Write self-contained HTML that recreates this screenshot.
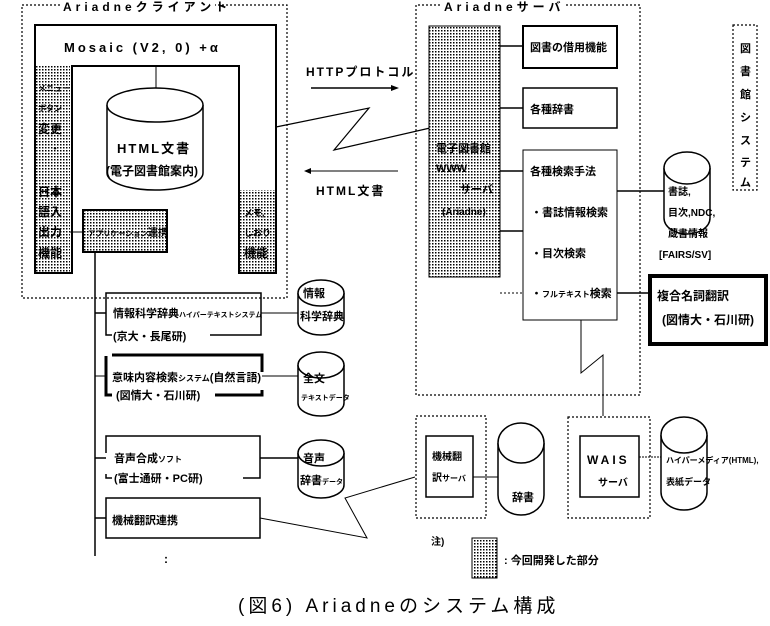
<!DOCTYPE html>
<html><head><meta charset="utf-8"><style>
html,body{margin:0;padding:0;background:#fff;}
svg{display:block;}
text{font-family:"Liberation Sans","Noto Sans CJK JP",sans-serif;font-weight:bold;fill:#000;}
</style></head><body>
<svg width="770" height="626" viewBox="0 0 770 626" xmlns="http://www.w3.org/2000/svg">
<defs>
<pattern id="st" width="3" height="3" patternUnits="userSpaceOnUse">
<rect width="3" height="3" fill="#fff"/><rect width="1.5" height="1.5" fill="#000"/>
</pattern>
</defs>
<g fill="none" stroke="#000" stroke-width="1.2" stroke-dasharray="2,2">
<path d="M60,5 H22 V298 H287 V5 H215"/>
<path d="M440,5 H416 V395 H640 V5 H565"/>
<rect x="733" y="25" width="24" height="165"/>
<rect x="416" y="416" width="70" height="102"/>
<rect x="568" y="417" width="82" height="101"/>
</g>
<text x="63" y="11" font-size="12" letter-spacing="4">Ariadneクライアント</text>
<text x="444" y="11" font-size="12" letter-spacing="4">Ariadneサーバ</text>

<rect x="35" y="66" width="35" height="207" fill="url(#st)"/>
<rect x="239" y="190" width="36" height="83" fill="url(#st)"/>
<path d="M35,273 V25 H276 V273 H239 V66 H72 V273 Z" fill="none" stroke="#000" stroke-width="2"/>
<text x="64" y="52" font-size="13" letter-spacing="3">Mosaic (V2, 0) +α</text>
<g font-size="10">
<text x="38" y="91" font-size="8">メニュー</text><text x="38" y="111" font-size="8">ボタン</text>
<text x="38" y="133" font-size="12">変更</text><text x="50" y="152">・</text>
<text x="38" y="196" font-size="12">日本</text><text x="38" y="216" font-size="12">語入</text>
<text x="38" y="236" font-size="12">出力</text><text x="38" y="257" font-size="12">機能</text>
<text x="244" y="216" font-size="9">メモ,</text><text x="244" y="236" font-size="9">しおり</text><text x="244" y="257" font-size="12">機能</text>
</g>
<line x1="156" y1="66" x2="156" y2="88" stroke="#000" stroke-width="1"/>
<path d="M107,105 V173 A48,17 0 0 0 203,173 V105" fill="#fff" stroke="#000" stroke-width="1.5"/>
<ellipse cx="155" cy="105" rx="48" ry="17" fill="#fff" stroke="#000" stroke-width="1.5"/>
<text x="117" y="153" font-size="13" letter-spacing="2">HTML文書</text>
<text x="106" y="175" font-size="12">(電子図書館案内)</text>
<rect x="83" y="210" width="84" height="42" fill="url(#st)" stroke="#000" stroke-width="2"/>
<text x="88" y="236" font-size="7.5">アプリケーション<tspan font-size="10">連携</tspan></text>
<line x1="70" y1="232" x2="83" y2="232" stroke="#000"/>
<line x1="95" y1="252" x2="95" y2="556" stroke="#000" stroke-width="1.5"/>

<g stroke="#000" fill="none">
<path d="M95,313 H106 M106,331 V293 H261 V335 H210 M106,331 V335 H112" stroke-width="1.5"/>
<line x1="261" y1="313" x2="298" y2="313"/>
<path d="M106,376 H95 M262,376 H300" stroke-width="1"/>
<path d="M112,355 H262 V372 M106,356 V395 H112 M215,395 H262 V390" stroke-width="3"/>
<path d="M95,458 H106 M106,453 V436 H260 V478 H243 M106,474 V478 H112" stroke-width="1.5"/>
<line x1="260" y1="458" x2="298" y2="458" stroke-width="1.5"/>
<path d="M95,518 H106" stroke-width="1.5"/>
<rect x="106" y="498" width="154" height="40" stroke-width="1.5"/>
<path d="M260,518 L367,538 L345,498 L415,477" stroke-width="1"/>
</g>
<g font-size="11">
<text x="113" y="317">情報科学辞典<tspan font-size="7">ハイパーテキストシステム</tspan></text>
<text x="113" y="340">(京大・長尾研)</text>
<text x="112" y="381">意味内容検索<tspan font-size="8">システム</tspan>(自然言語)</text>
<text x="116" y="399">(図情大・石川研)</text>
<text x="114" y="462">音声合成<tspan font-size="8">ソフト</tspan></text>
<text x="114" y="482">(富士通研・PC研)</text>
<text x="112" y="524">機械翻訳連携</text>
</g>
<text x="164" y="563" font-size="12">:</text>

<g fill="#fff" stroke="#000" stroke-width="1.5">
<path d="M298,293 V322 A23,13 0 0 0 344,322 V293"/><ellipse cx="321" cy="293" rx="23" ry="13"/>
<path d="M298,365 V403 A23,13 0 0 0 344,403 V365"/><ellipse cx="321" cy="365" rx="23" ry="13"/>
<path d="M298,453 V485 A23,13 0 0 0 344,485 V453"/><ellipse cx="321" cy="453" rx="23" ry="13"/>
</g>
<g font-size="11">
<text x="303" y="297">情報</text><text x="300" y="320">科学辞典</text>
<text x="303" y="382">全文</text><text x="301" y="400" font-size="7">テキストデータ</text>
<text x="303" y="462">音声</text><text x="300" y="484">辞書<tspan font-size="7">データ</tspan></text>
</g>

<text x="306" y="76" font-size="12" letter-spacing="2">HTTPプロトコル</text>
<line x1="311" y1="88" x2="394" y2="88" stroke="#000" stroke-width="1.5"/>
<path d="M399,88 L391,85 L391,91 Z"/>
<line x1="309" y1="171" x2="398" y2="171" stroke="#000" stroke-width="1"/>
<path d="M304,171 L311,168 L311,174 Z"/>
<text x="316" y="195" font-size="12" letter-spacing="2">HTML文書</text>
<path d="M276,127 L369,108 L334,150 L430,128" fill="none" stroke="#000" stroke-width="1.2"/>

<rect x="429" y="26" width="71" height="251" fill="url(#st)" stroke="#000" stroke-width="1"/>
<g font-size="11">
<text x="436" y="152">電子図書館</text>
<text x="436" y="172">WWW</text>
<text x="460" y="193">サーバ</text>
<text x="442" y="215" font-size="10">(Ariadne)</text>
</g>
<g stroke="#000" fill="none" stroke-width="1.5">
<rect x="523" y="26" width="94" height="42" stroke-width="2"/>
<rect x="523" y="88" width="94" height="40"/>
<rect x="523" y="150" width="94" height="170" stroke-width="1"/>
<path d="M500,46 H523 M500,108 H523 M500,171 H523 M500,231 H523"/>
<path d="M500,293 H523" stroke-dasharray="2,2" stroke-width="1"/>
<path d="M617,191 H665 M617,293 H650"/>
<rect x="650" y="276" width="116" height="68" stroke-width="4"/>
<path d="M581,320 V373 L603,355 V416" stroke-width="1"/>
</g>
<g font-size="11">
<text x="530" y="51">図書の借用機能</text>
<text x="530" y="113">各種辞書</text>
<text x="530" y="175">各種検索手法</text>
<text x="531" y="216">・書誌情報検索</text>
<text x="531" y="257">・目次検索</text>
<text x="531" y="297">・<tspan font-size="8">フルテキスト</tspan>検索</text>
<text x="657" y="300" font-size="12">複合名詞翻訳</text>
<text x="662" y="324" font-size="12">(図情大・石川研)</text>
</g>
<path d="M664,168 V218 A23,16 0 0 0 710,218 V168" fill="#fff" stroke="#000" stroke-width="1.5"/>
<ellipse cx="687" cy="168" rx="23" ry="16" fill="#fff" stroke="#000" stroke-width="1.5"/>
<g font-size="10">
<text x="668" y="195">書誌,</text>
<text x="668" y="216">目次,NDC,</text>
<text x="668" y="237">蔵書情報</text>
<text x="659" y="258">[FAIRS/SV]</text>
</g>
<g font-size="11">
<text x="740" y="52">図</text><text x="740" y="75">書</text><text x="740" y="98">館</text>
<text x="740" y="121">シ</text><text x="740" y="144">ス</text><text x="740" y="166">テ</text><text x="740" y="186">ム</text>
</g>

<g stroke="#000" fill="none" stroke-width="1.5">
<rect x="426" y="436" width="47" height="61"/>
<rect x="580" y="436" width="59" height="61"/>
<line x1="473" y1="477" x2="498" y2="477" stroke-width="1"/>
<line x1="639" y1="457" x2="662" y2="457" stroke-width="1" stroke-dasharray="2,1"/>
</g>
<g fill="#fff" stroke="#000" stroke-width="1.5">
<path d="M498,443 V495 A23,20 0 0 0 544,495 V443"/><ellipse cx="521" cy="443" rx="23" ry="20"/>
<path d="M661,435 V492 A23,18 0 0 0 707,492 V435"/><ellipse cx="684" cy="435" rx="23" ry="18"/>
</g>
<g font-size="10">
<text x="432" y="460">機械翻</text>
<text x="432" y="481">訳<tspan font-size="8">サーバ</tspan></text>
<text x="512" y="501" font-size="11">辞書</text>
<text x="587" y="464" font-size="12" letter-spacing="3">WAIS</text>
<text x="598" y="486">サーバ</text>
<text x="666" y="463" font-size="8">ハイパーメディア(HTML),</text>
<text x="666" y="485" font-size="9">表紙データ</text>
</g>

<text x="431" y="545" font-size="10">注)</text>
<rect x="472" y="538" width="25" height="40" fill="url(#st)" stroke="#000" stroke-width="1"/>
<text x="504" y="564" font-size="11">: 今回開発した部分</text>
<text x="238" y="612" font-size="19" letter-spacing="4" style="font-weight:normal">(図6) Ariadneのシステム構成</text>
</svg>
</body></html>
